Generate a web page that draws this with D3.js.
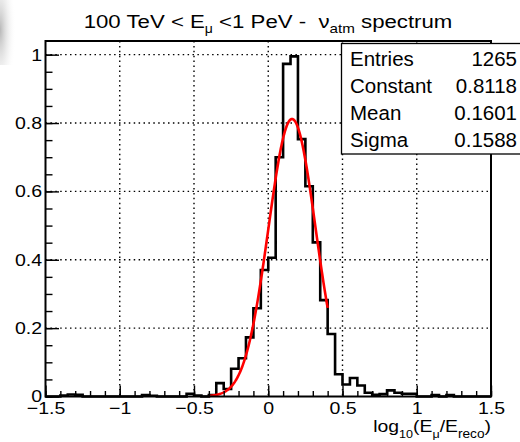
<!DOCTYPE html>
<html>
<head>
<meta charset="utf-8">
<script src="https://cdn.jsdelivr.net/npm/d3@7"></script>
<style>
  body { margin: 0; background: #fff; }
  svg { display: block; font-family: "Liberation Sans", Arial, Helvetica, sans-serif; }
  text { white-space: pre; }
</style>
</head>
<body>
<script>
var width = 520,
    height = 442

// histogram: 60 bins of 0.05 from -1.5 to 1.5
var binLow = -1.5, binWidth = 0.05;
var counts = [
  0, 0, 0.003, 0.006, 0.005, 0, 0, 0, 0, 0,
  0, 0, 0, 0.004, 0.002, 0, 0, 0, 0, 0.008,
  0.003, 0, 0.004, 0.039, 0.022, 0.081, 0.112, 0.173, 0.258, 0.370,
  0.406, 0.700, 0.973, 0.995, 0.753, 0.615, 0.451, 0.282, 0.183, 0.065,
  0.035, 0.054, 0.032, 0.011, 0.005, 0.007, 0.018, 0.011, 0.008, 0.008,
  0, 0, 0.004, 0, 0.004, 0, 0, 0, 0, 0
];

// gaussian fit parameters (from the stats box)
var fitConstant = 0.8118, fitMean = 0.1601, fitSigma = 0.1588;
var fitRange = [-0.4, 0.4];

var xTicks = [-1.5, -1, -0.5, 0, 0.5, 1, 1.5];
var yTicks = [0, 0.2, 0.4, 0.6, 0.8, 1];
var statNames = ["Entries", "Constant", "Mean", "Sigma"];
var statValues = ["1265", "0.8118", "0.1601", "0.1588"];

var frame = {left: 45.5, right: 491, top: 41, bottom: 396.5};

var svg = d3.select("body").append("svg")
    .attr("width", width)
    .attr("height", height);

// soft grey corner shadow seen at top-left of the screenshot
var defs = svg.append("defs");
var grad = defs.append("radialGradient").attr("id", "corner")
    .attr("cx", 0).attr("cy", 0.5).attr("r", 1);
grad.append("stop").attr("offset", "0%").attr("stop-color", "#999").attr("stop-opacity", 0.7);
grad.append("stop").attr("offset", "100%").attr("stop-color", "#fff").attr("stop-opacity", 0);
svg.append("rect")
    .attr("x", 0).attr("y", -5).attr("width", 16).attr("height", 70)
    .attr("fill", "url(#corner)");

var x = d3.scaleLinear().domain([-1.5, 1.5]).range([frame.left, frame.right]);
var y = d3.scaleLinear().domain([0, 1.04]).range([frame.bottom, frame.top]);

// grid
svg.append("g").selectAll("line.gx")
  .data(xTicks.slice(1, -1))
  .join("line")
    .attr("x1", d => x(d)).attr("x2", d => x(d))
    .attr("y1", frame.top).attr("y2", frame.bottom)
    .attr("stroke", "#000").attr("stroke-width", 1.4)
    .attr("stroke-dasharray", "1.5,3.4");

svg.append("g").selectAll("line.gy")
  .data(yTicks.slice(1))
  .join("line")
    .attr("x1", frame.left).attr("x2", frame.right)
    .attr("y1", d => y(d)).attr("y2", d => y(d))
    .attr("stroke", "#000").attr("stroke-width", 1.4)
    .attr("stroke-dasharray", "1.5,3.4");

// histogram outline
var pts = [[x(binLow), y(0)]];
counts.forEach(function(c, i) {
  var x0 = binLow + i * binWidth;
  pts.push([x(x0), y(c)]);
  pts.push([x(x0 + binWidth), y(c)]);
});
pts.push([x(binLow + counts.length * binWidth), y(0)]);

svg.append("path")
    .attr("d", d3.line()(pts))
    .attr("fill", "none")
    .attr("stroke", "#000")
    .attr("stroke-width", 2.6)
    .attr("stroke-linejoin", "miter");

// fit curve
var fitPts = d3.range(0, 201).map(function(k) {
  var xv = fitRange[0] + (fitRange[1] - fitRange[0]) * k / 200;
  var z = (xv - fitMean) / fitSigma;
  return [x(xv), y(fitConstant * Math.exp(-0.5 * z * z))];
});
svg.append("path")
    .attr("d", d3.line()(fitPts))
    .attr("fill", "none")
    .attr("stroke", "#ff0000")
    .attr("stroke-width", 2.6);

// axes (ticks point inward like ROOT)
var labelFont = "'Liberation Sans', Arial, sans-serif";
var xMinor = d3.range(-15, 16).map(d => d / 10);
svg.append("g")
    .attr("transform", "translate(0," + frame.bottom + ")")
    .call(d3.axisBottom(x).tickValues(xMinor).tickSize(-5.5).tickFormat(""))
    .call(g => g.select(".domain").remove());
svg.append("g")
    .attr("transform", "translate(0," + frame.bottom + ")")
    .call(d3.axisBottom(x).tickValues(xTicks).tickSize(-11).tickPadding(5).tickFormat(d3.format("~g")))
    .call(g => g.select(".domain").remove())
    .call(g => g.selectAll("text").attr("font-size", 17).attr("fill", "#000")
      .attr("font-family", labelFont).attr("transform", "scale(1.15,1)"));

var yMinor = d3.range(0, 21).map(d => d / 20);
svg.append("g")
    .attr("transform", "translate(" + frame.left + ",0)")
    .call(d3.axisLeft(y).tickValues(yMinor).tickSize(-7).tickFormat(""))
    .call(g => g.select(".domain").remove());
svg.append("g")
    .attr("transform", "translate(" + frame.left + ",0)")
    .call(d3.axisLeft(y).tickValues(yTicks).tickSize(-13.5).tickPadding(3).tickFormat(d3.format("~g")))
    .call(g => g.select(".domain").remove())
    .call(g => g.selectAll("text").attr("font-size", 17).attr("fill", "#000")
      .attr("font-family", labelFont).attr("transform", "scale(1.15,1)"));

svg.selectAll(".tick line").attr("stroke", "#000").attr("stroke-width", 1.4);

// frame
svg.append("rect")
    .attr("x", frame.left).attr("y", frame.top)
    .attr("width", frame.right - frame.left)
    .attr("height", frame.bottom - frame.top)
    .attr("fill", "none")
    .attr("stroke", "#000")
    .attr("stroke-width", 2);

// stats box
var box = svg.append("g");
box.append("rect")
    .attr("x", 341.5).attr("y", 43.5)
    .attr("width", 180).attr("height", 110.5)
    .attr("fill", "#fff")
    .attr("stroke", "#000")
    .attr("stroke-width", 1.3);
statNames.forEach(function(s, i) {
  box.append("text")
      .attr("x", 350).attr("y", 65.5 + i * 27.3)
      .attr("font-size", 20.5)
      .attr("textLength", null)
      .text(s);
  box.append("text")
      .attr("x", 517).attr("y", 65.5 + i * 27.3)
      .attr("font-size", 20.5)
      .attr("text-anchor", "end")
      .text(statValues[i]);
});

// title
var title = svg.append("text")
    .attr("transform", "translate(268,28) scale(1.17,1)")
    .attr("text-anchor", "middle")
    .attr("font-size", 19);
title.append("tspan").text("100 TeV < E");
title.append("tspan").attr("dy", 5).attr("font-size", 12).text("\u03bc");
title.append("tspan").attr("dy", -5).text(" <1 PeV -  \u03bd");
title.append("tspan").attr("dy", 5).attr("font-size", 13).text("atm");
title.append("tspan").attr("dy", -5).text(" spectrum");

// x axis label
var xl = svg.append("text")
    .attr("transform", "translate(491,432) scale(1.14,1)")
    .attr("text-anchor", "end")
    .attr("font-size", 17);
xl.append("tspan").text("log");
xl.append("tspan").attr("dy", 6).attr("font-size", 11).text("10");
xl.append("tspan").attr("dy", -6).text("(E");
xl.append("tspan").attr("dy", 6).attr("font-size", 11).text("\u03bc");
xl.append("tspan").attr("dy", -6).text("/E");
xl.append("tspan").attr("dy", 6).attr("font-size", 12).text("reco");
xl.append("tspan").attr("dy", -6).text(")");
</script>
</body>
</html>
